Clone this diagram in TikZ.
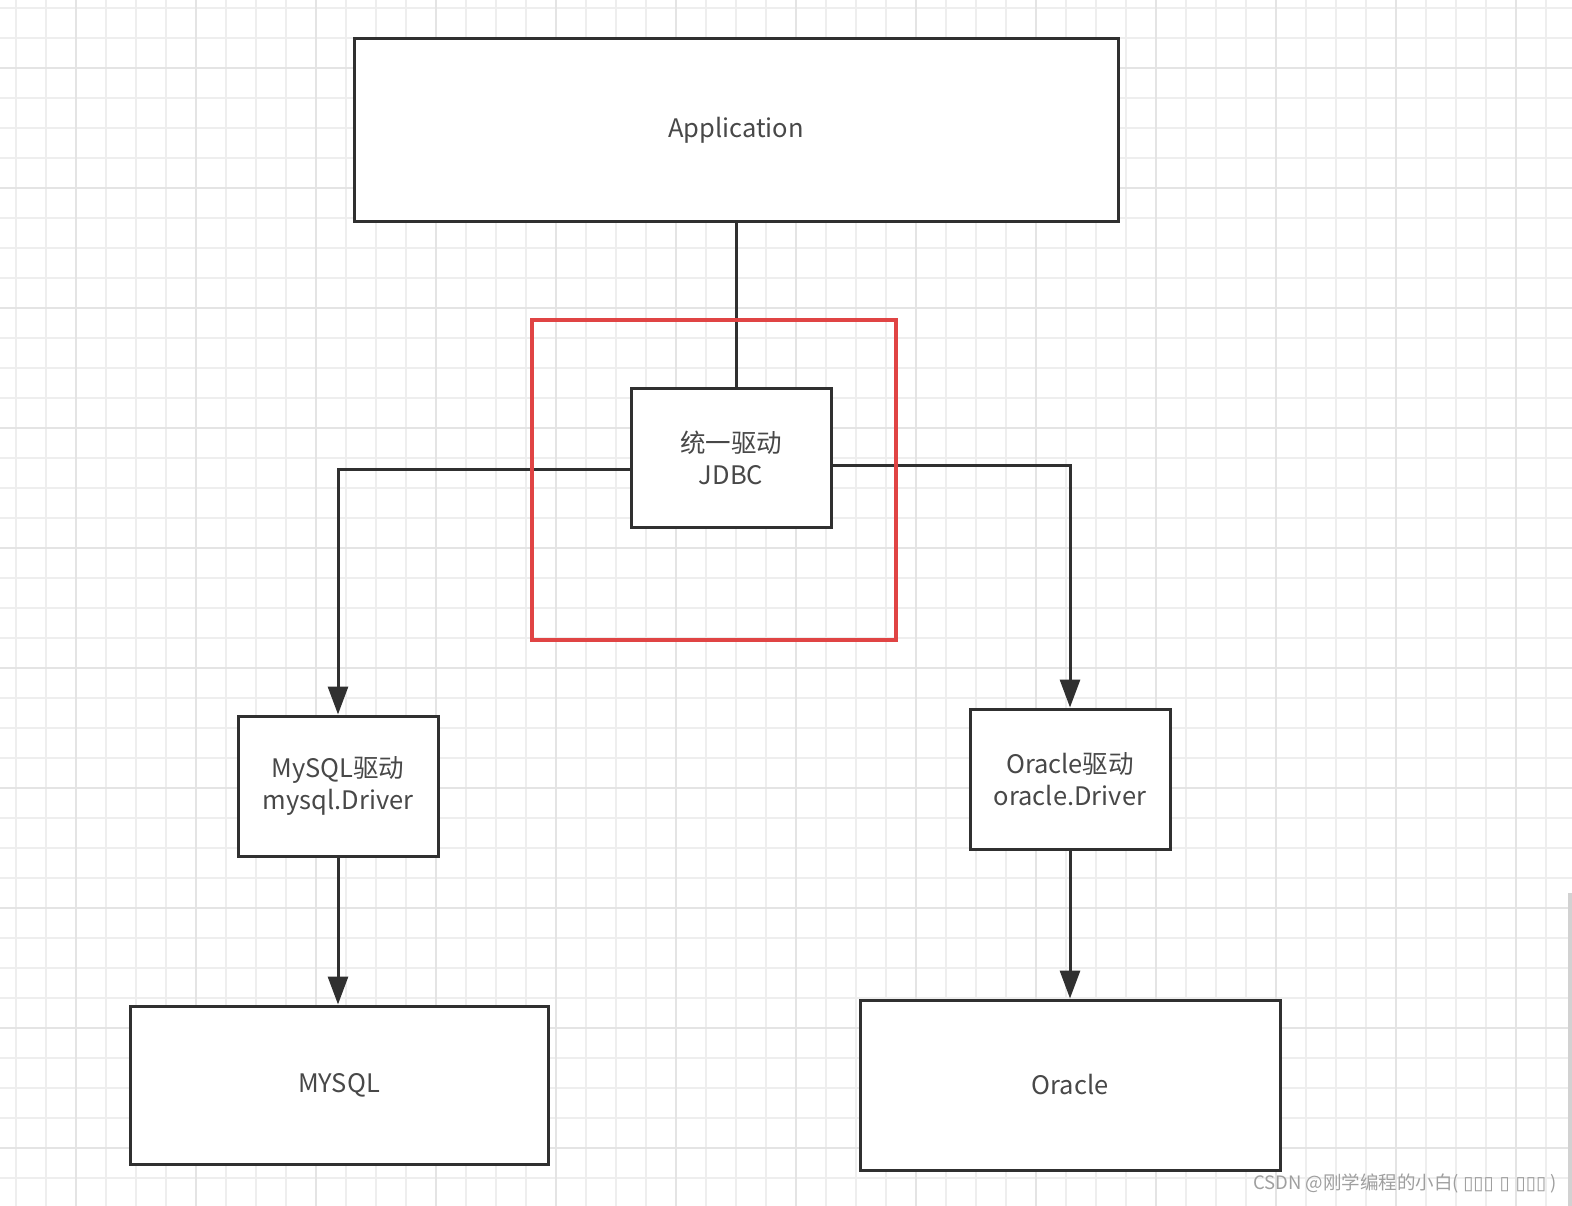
\documentclass[tikz,border=0pt]{standalone}
\usepackage{fontspec}
\setmainfont{Noto Sans CJK SC}
\newfontfamily\symfont{DejaVu Sans}
\usetikzlibrary{arrows.meta}
\definecolor{gridgray}{HTML}{EEEEEE}
\definecolor{gridmajor}{HTML}{E4E4E4}
\definecolor{inkgray}{HTML}{303030}
\definecolor{textgray}{HTML}{484848}
\definecolor{markred}{HTML}{E04444}

\begin{document}
\begin{tikzpicture}[
    x=1pt, y=-1pt,
    >={Triangle[length=28pt,width=20pt]},
    box/.style={rectangle, draw=inkgray, line width=3pt, fill=white, font=\fontsize{25.5}{32}\selectfont, text=textgray, align=center, inner sep=0pt},
    frame/.style={rectangle, draw=markred, line width=3.5pt, inner sep=0pt},
    link/.style={draw=inkgray, line width=3pt},
    arrow/.style={->, draw=inkgray, line width=3pt},
    gridline/.style={draw=gridgray, line width=2pt},
    gridbold/.style={draw=gridmajor, line width=2.5pt},
    watermark/.style={font=\fontsize{18.5}{22}\selectfont, text=gray!75, inner sep=0pt},
]

% === BACKGROUND GRID ===
\fill[white] (0,0) rectangle (1572,1206);
\useasboundingbox (0,0) rectangle (1572,1206);
\foreach \gx in {16,46,...,1572} \draw[gridline] (\gx,0) -- (\gx,1206);
\foreach \gy in {8,38,...,1206} \draw[gridline] (0,\gy) -- (1572,\gy);
\foreach \gx in {76,196,...,1572} \draw[gridbold] (\gx,0) -- (\gx,1206);
\foreach \gy in {68,188,...,1206} \draw[gridbold] (0,\gy) -- (1572,\gy);
\fill[gray!35] (1568,893) rectangle (1572,1206);

% === BOXES ===
\node[box, minimum width=764pt, minimum height=183pt] (app) at (736,130.5) {Application};
\node[box, minimum width=200pt, minimum height=139pt] (jdbc) at (731,457.5) {统一驱动\\JDBC};
\node[box, minimum width=200pt, minimum height=140pt] (mysqldrv) at (338,786) {MySQL驱动\\mysql.Driver};
\node[box, minimum width=200pt, minimum height=140pt] (oracledrv) at (1070,779) {Oracle驱动\\oracle.Driver};
\node[box, minimum width=418pt, minimum height=158pt] (mysql) at (339,1085) {MYSQL};
\node[box, minimum width=420pt, minimum height=170pt] (oracle) at (1070,1085) {Oracle};

% === CONNECTIONS ===
\draw[link] (app.south) -- (app.south |- jdbc.north);
\draw[arrow] ([yshift=-11.5pt]jdbc.west) -| (mysqldrv.north);
\draw[arrow] ([yshift=-7.5pt]jdbc.east) -| (oracledrv.north);
\draw[arrow] (mysqldrv.south) -- (mysqldrv.south |- mysql.north);
\draw[arrow] (oracledrv.south) -- (oracledrv.south |- oracle.north);

% highlight round JDBC
\node[frame, minimum width=364pt, minimum height=320pt] (jdbcframe) at (714,480) {};

% === CREDIT ===
\node[watermark] (credit) at (1405,1183) {CSDN @刚学编程的小白( {\symfont ▯▯▯ ▯ ▯▯▯} )};

\end{tikzpicture}
\end{document}
